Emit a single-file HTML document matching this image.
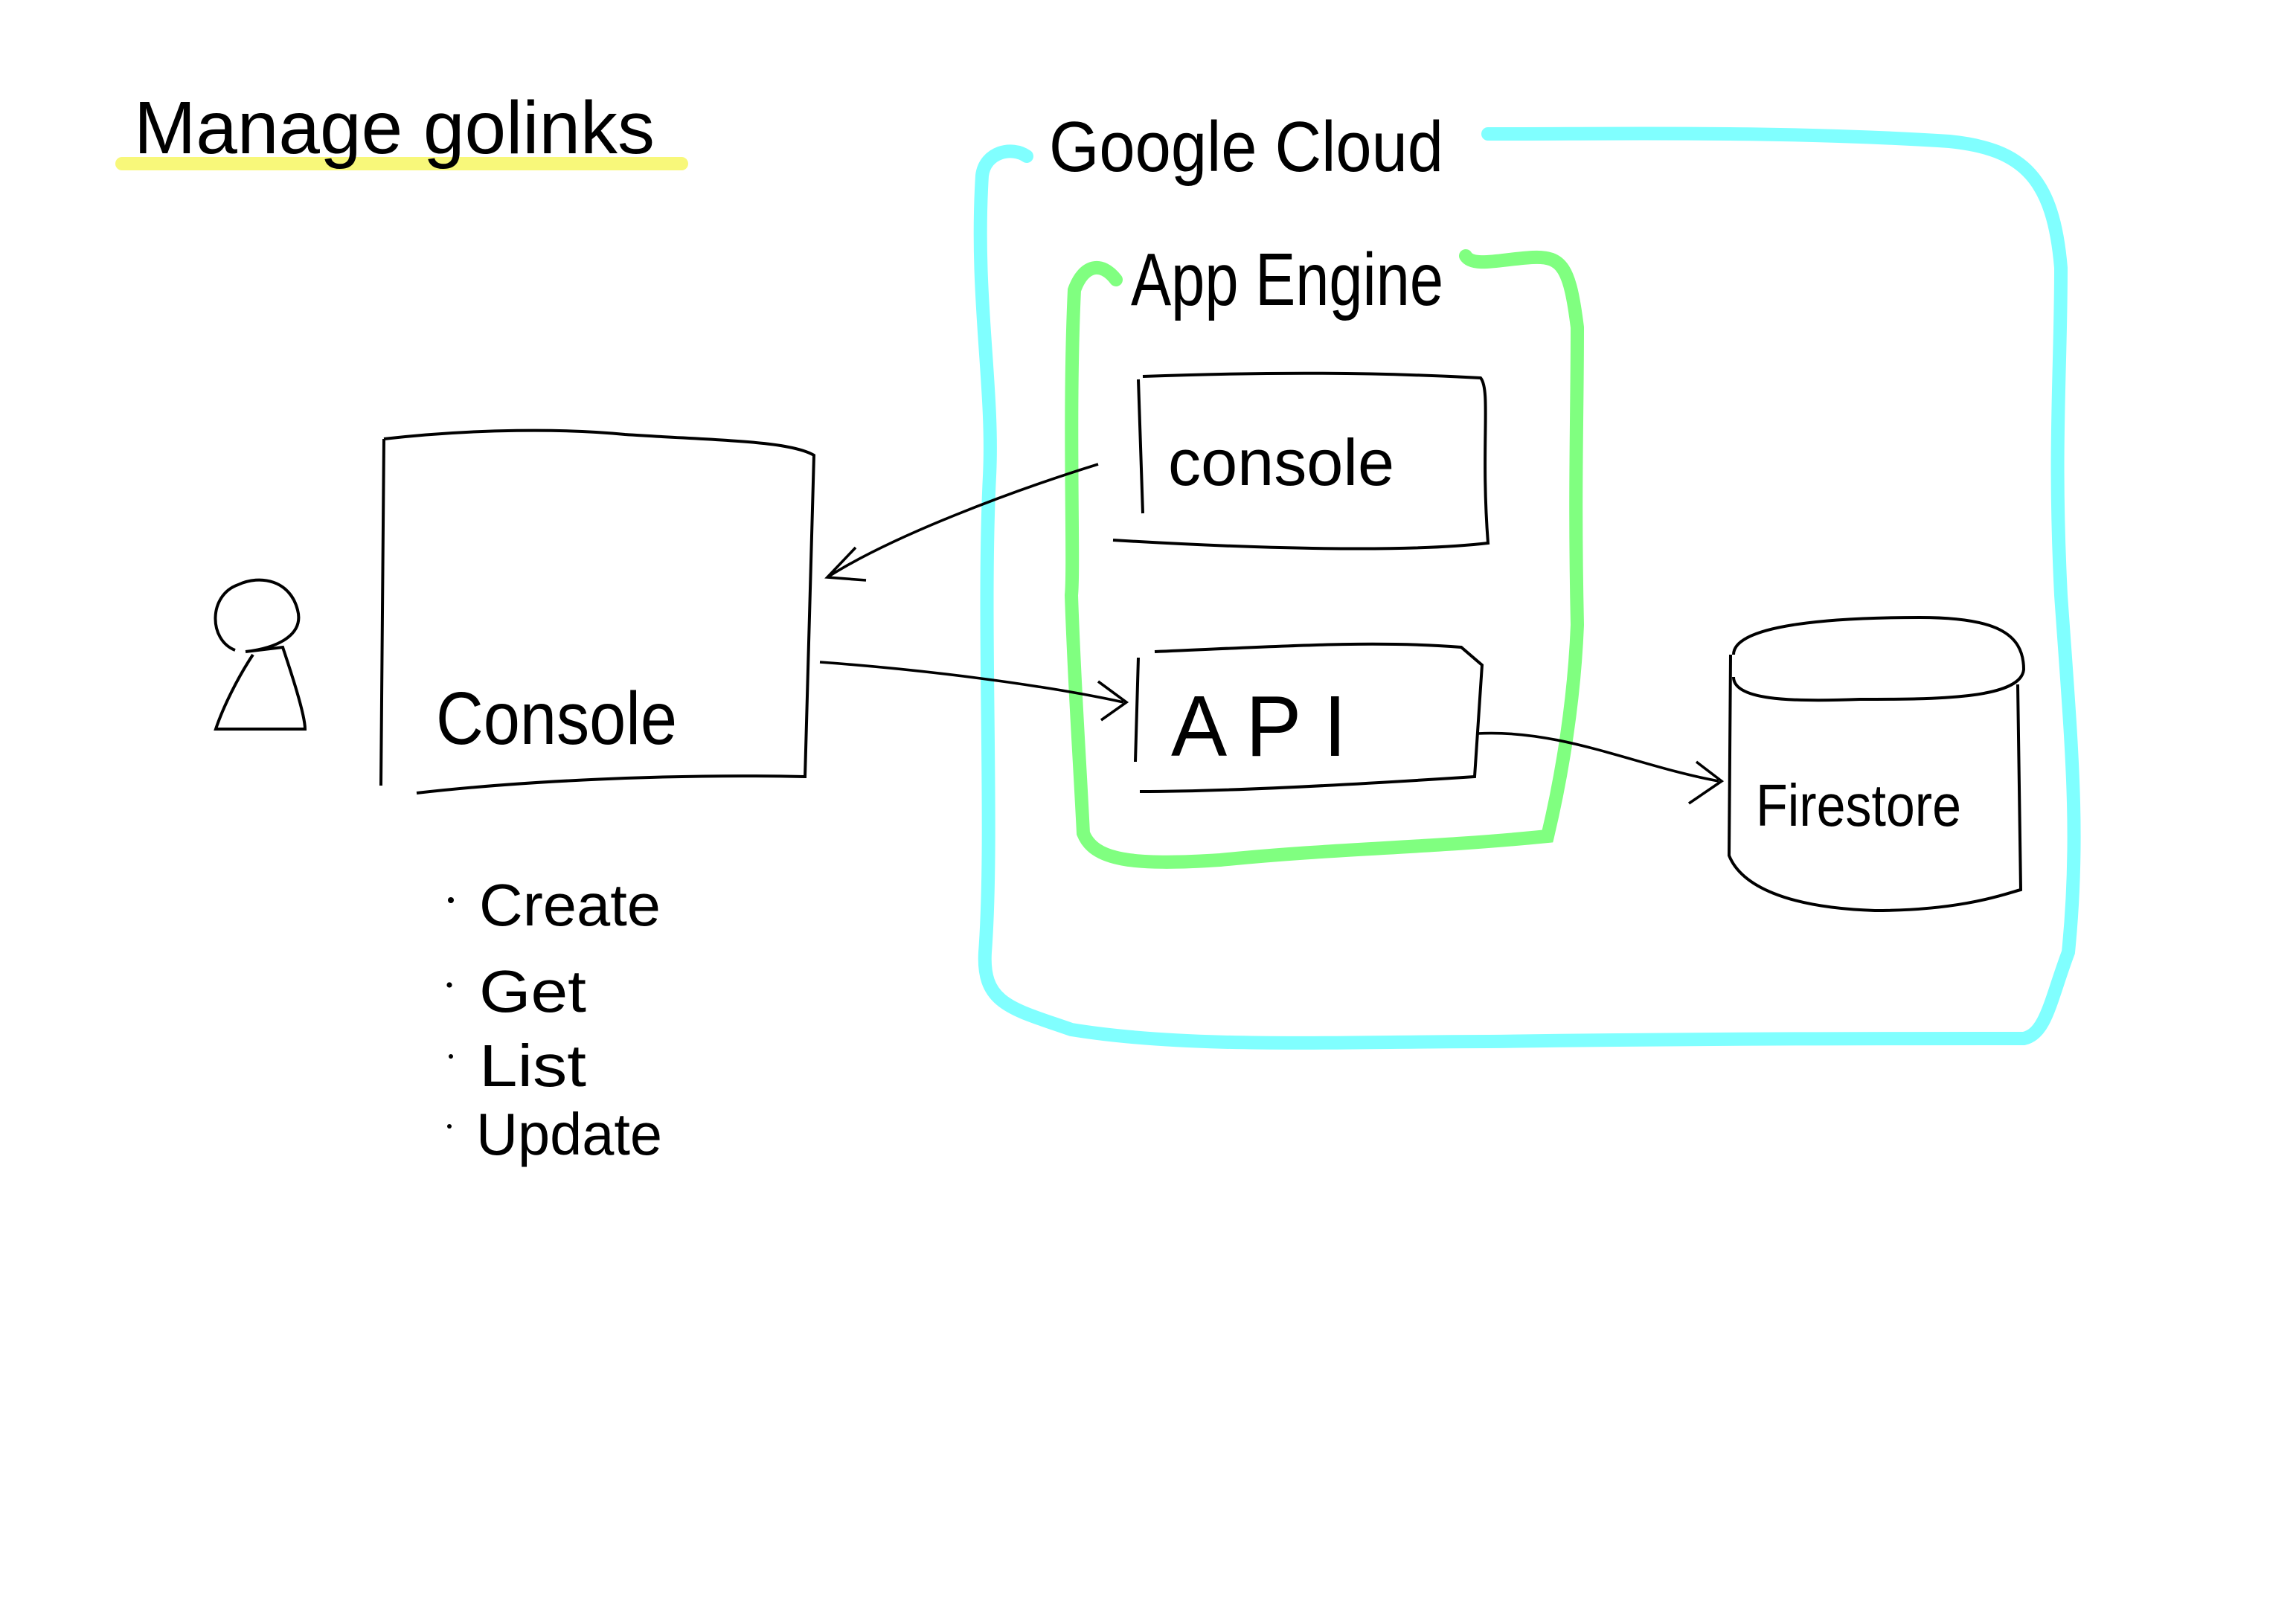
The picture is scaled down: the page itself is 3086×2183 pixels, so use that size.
<!DOCTYPE html>
<html><head><meta charset="utf-8"><style>
html,body{margin:0;padding:0;background:#fff;}
svg{display:block;}
text{font-family:"Liberation Sans",sans-serif;fill:#000;font-weight:300;}
</style></head><body>
<svg width="3086" height="2183" viewBox="0 0 1543 1091.5" xmlns="http://www.w3.org/2000/svg">
<rect width="1543" height="1091.5" fill="#fff"/>
<!-- title -->
<path d="M82 110 L458 110" stroke="#f8f87a" stroke-width="9" stroke-linecap="round"/>
<text x="90" y="103" font-size="50" textLength="350" lengthAdjust="spacingAndGlyphs">Manage golinks</text>
<!-- Google cloud -->
<path d="M690 105 C680 98 662 102 660 118 C655 200 668 260 665 320 C660 420 668 560 662 640 C660 675 680 678 720 692 C800 705 900 700 1000 700 C1150 698 1250 698 1360 698 C1375 695 1378 672 1390 640 C1398 560 1392 500 1385 400 C1380 300 1385 250 1385 180 C1380 120 1360 100 1310 95 C1200 88 1100 90 1000 90" fill="none" stroke="#80ffff" stroke-width="9" stroke-linecap="round"/>
<text x="705" y="115" font-size="48" textLength="265" lengthAdjust="spacingAndGlyphs">Google Cloud</text>
<!-- App engine -->
<path d="M750 188 C740 175 728 178 722 195 C718 280 722 380 720 400 C722 460 725 500 728 560 C735 578 760 582 820 578 C900 570 960 570 1040 562 C1050 520 1058 470 1060 420 C1058 330 1060 280 1060 220 C1055 180 1050 172 1030 173 C1010 174 990 180 985 172" fill="none" stroke="#80ff80" stroke-width="9" stroke-linecap="round"/>
<text x="760" y="205" font-size="50" textLength="210" lengthAdjust="spacingAndGlyphs">App Engine</text>
<!-- inner console -->
<path d="M765 255 L768 345 M768 253 C850 250 920 250 995 254 C1002 262 995 300 1000 365 C940 372 830 368 748 363" fill="none" stroke="#000" stroke-width="2"/>
<text x="785" y="326" font-size="44" textLength="152" lengthAdjust="spacingAndGlyphs">console</text>
<!-- API -->
<path d="M765 442 L763 512 M776 438 C850 435 920 430 982 435 L996 447 L991 522 C900 528 820 532 766 532" fill="none" stroke="#000" stroke-width="2"/>
<text x="787" y="508" font-size="58" textLength="118" lengthAdjust="spacingAndGlyphs">A P I</text>
<!-- Firestore -->
<path d="M1165 440 C1165 420 1230 415 1290 415 C1340 415 1360 425 1360 450 C1358 470 1300 470 1250 470 C1200 472 1165 470 1165 455 M1163 440 L1162 575 C1170 595 1200 610 1260 612 C1320 612 1350 600 1358 598 L1356 460" fill="none" stroke="#000" stroke-width="2"/>
<text x="1180" y="555" font-size="40" textLength="138" lengthAdjust="spacingAndGlyphs">Firestore</text>
<!-- left console -->
<path d="M258 295 L256 528 M258 295 C320 288 380 288 420 292 C480 296 530 296 547 306 L541 522 C450 520 350 525 280 533" fill="none" stroke="#000" stroke-width="2"/>
<text x="293" y="500" font-size="50" textLength="162" lengthAdjust="spacingAndGlyphs">Console</text>
<!-- person -->
<path d="M158 437 C140 430 140 400 160 393 C175 386 195 390 200 410 C204 425 190 435 165 438 L190 435 C195 450 205 480 205 490 L145 490 C150 475 160 455 170 440" fill="none" stroke="#000" stroke-width="2"/>
<!-- arrows -->
<path d="M738 312 C680 330 600 360 556 388 M575 368 L556 388 L582 390" fill="none" stroke="#000" stroke-width="1.8"/>
<path d="M551 445 C620 450 700 460 755 472 M738 458 L757 472 L740 484" fill="none" stroke="#000" stroke-width="1.8"/>
<path d="M993 493 C1050 490 1100 515 1155 525 M1140 512 L1157 525 L1135 540" fill="none" stroke="#000" stroke-width="1.8"/>
<!-- list -->
<g font-size="40">
<circle cx="303" cy="605" r="2" fill="#000"/><text x="322" y="622" textLength="122" lengthAdjust="spacingAndGlyphs">Create</text>
<circle cx="302" cy="662" r="1.8" fill="#000"/><text x="322" y="680" textLength="72" lengthAdjust="spacingAndGlyphs">Get</text>
<circle cx="303" cy="710" r="1.5" fill="#000"/><text x="322" y="730" textLength="72" lengthAdjust="spacingAndGlyphs">List</text>
<circle cx="302" cy="757" r="1.5" fill="#000"/><text x="320" y="776" textLength="125" lengthAdjust="spacingAndGlyphs">Update</text>
</g>
</svg>
</body></html>
